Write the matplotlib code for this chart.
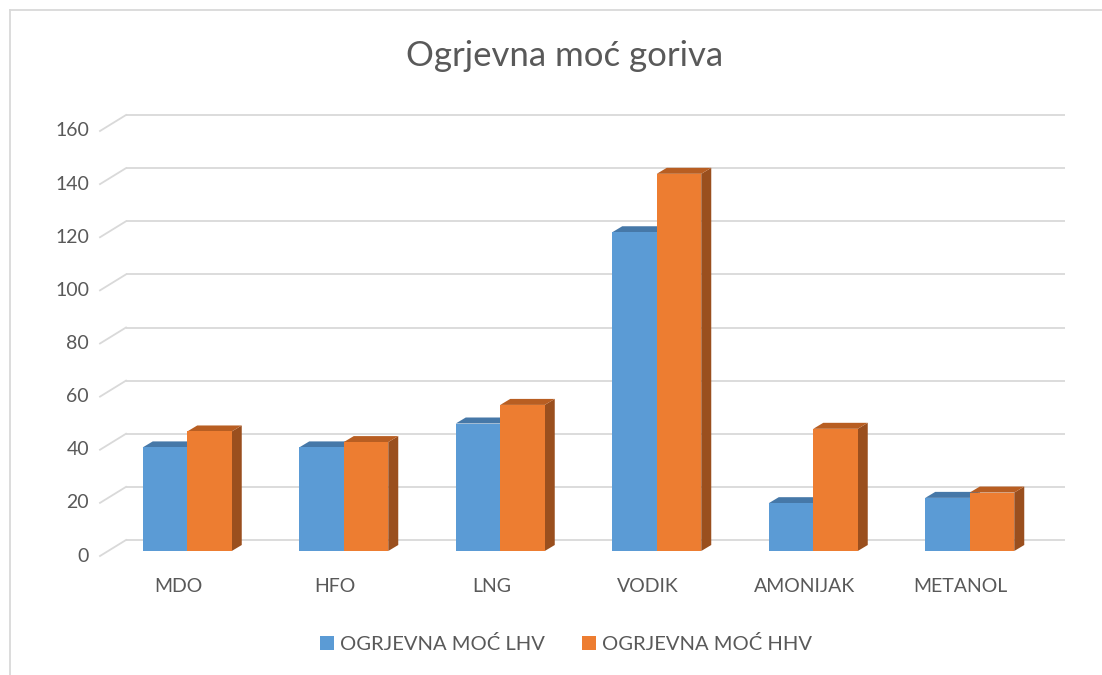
import matplotlib
matplotlib.use("Agg")
import matplotlib.pyplot as plt
from matplotlib.patches import Polygon, Patch
from matplotlib.lines import Line2D

categories = ["MDO", "HFO", "LNG", "VODIK", "AMONIJAK", "METANOL"]
lhv = [39, 39, 48, 120, 18, 20]
hhv = [45, 41, 55, 142, 46, 22]
series_names = ["OGRJEVNA MOĆ LHV", "OGRJEVNA MOĆ HHV"]
yticks = [0, 20, 40, 60, 80, 100, 120, 140, 160]

FONT = ["Lato", "DejaVu Sans"]
plt.rcParams["font.family"] = FONT
TXT = "#595959"
GRID = "#D9D9D9"

W, H = 1102, 675
fig = plt.figure(figsize=(W / 100, H / 100), dpi=100)

# bar plane in pixels
x_left, x_right = 109, 1048
y0_px, y160_px = 551, 126
ax = fig.add_axes([x_left / W, (H - y0_px) / H, (x_right - x_left) / W, (y0_px - y160_px) / H])
ax.set_xlim(-0.5, len(categories) - 0.5)
ax.set_ylim(0, 160)
ax.axis("off")

pxx = (x_right - x_left) / len(categories)   # px per x unit
pxy = (y0_px - y160_px) / 160.0               # px per y unit

def ux(p):
    return p / pxx

def uy(p):
    return p / pxy

# back plane offset and front plane offset (relative to bar plane)
bdx, bdy = ux(17), uy(11)
fdx, fdy = ux(-9), uy(-5)

for v in yticks:
    ax.plot([-0.5 + bdx, len(categories) - 0.5 + bdx], [v + bdy, v + bdy],
            color=GRID, lw=1.3, solid_capstyle="butt", zorder=1, clip_on=False)
    ax.plot([-0.5 + fdx, -0.5 + bdx], [v + fdy, v + bdy],
            color=GRID, lw=1.3, zorder=1, clip_on=False)
    ax.text(-0.5 + ux(-20), v + fdy, str(v), ha="right", va="center",
            fontsize=14, color=TXT)

for i, c in enumerate(categories):
    ax.text(i + fdx, uy(-36), c, ha="center", va="center", fontsize=14, color=TXT)

bw = ux(44.5)
ddx, ddy = ux(10), uy(6)

cols = {
    0: ("#5B9BD5", "#4678A8", "#3E6A96"),
    1: ("#ED7D31", "#B85E22", "#9A4F1E"),
}

def draw_bar(x0, v, front, top, side, z):
    x1 = x0 + bw
    ax.add_patch(Polygon([(x1, 0), (x1, v), (x1 + ddx, v + ddy), (x1 + ddx, ddy)],
                         closed=True, facecolor=side, edgecolor="none", zorder=z))
    ax.add_patch(Polygon([(x0, v), (x1, v), (x1 + ddx, v + ddy), (x0 + ddx, v + ddy)],
                         closed=True, facecolor=top, edgecolor="none", zorder=z))
    ax.bar([x0], [v], width=bw, align="edge", color=front, edgecolor="none", zorder=z + 0.1)

for i in range(len(categories)):
    draw_bar(i - bw, lhv[i], *cols[0], z=2 + i)
    draw_bar(i, hhv[i], *cols[1], z=2.5 + i)

fig.text(565 / W, 1 - 56 / H, "Ogrjevna moć goriva", ha="center", va="center",
         fontsize=25, color=TXT)

handles = [Patch(facecolor=cols[0][0], edgecolor="none"),
           Patch(facecolor=cols[1][0], edgecolor="none")]
fig.legend(handles, series_names, loc="center", bbox_to_anchor=(566 / W, 1 - 644 / H),
           ncol=2, frameon=False, fontsize=14.5, labelcolor=TXT,
           handlelength=0.72, handleheight=0.72, handletextpad=0.3, columnspacing=1.8)

# chart border
fig.add_artist(Line2D([9.5 / W, 9.5 / W], [0, 1 - 9.5 / H], transform=fig.transFigure,
                      color=GRID, lw=1.3))
fig.add_artist(Line2D([9.5 / W, 1], [1 - 9.5 / H, 1 - 9.5 / H], transform=fig.transFigure,
                      color=GRID, lw=1.3))

fig.savefig("out.png", dpi=100, facecolor="white")
